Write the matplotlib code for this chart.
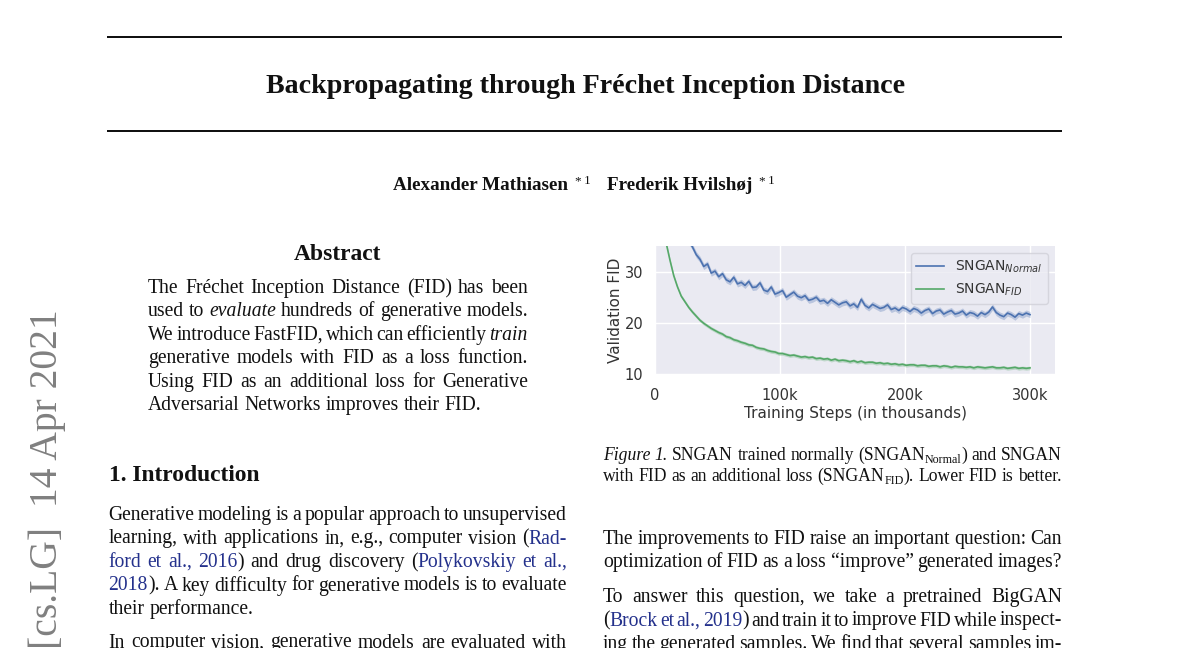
import re
import matplotlib
matplotlib.use('Agg')
import matplotlib.pyplot as plt
from matplotlib.lines import Line2D
import numpy as np

# ---------------- data ----------------
blue_steps = list(range(27, 301, 3))
blue_fid = [36.0, 34.8, 33.3, 32.4, 31.0, 31.5, 29.7, 30.1, 29.0, 29.6,
            28.4, 28.0, 28.9, 27.6, 27.9, 27.3, 28.1, 26.9, 27.0, 27.8,
            26.4, 26.1, 27.0, 25.6, 25.9, 26.3, 25.0, 25.5, 26.0, 25.2,
            24.9, 25.3, 24.4, 24.6, 25.0, 24.2, 24.4, 23.8, 24.5, 24.0,
            23.5, 23.9, 24.1, 23.3, 23.7, 23.0, 24.6, 23.4, 22.9, 23.6,
            23.2, 22.8, 23.0, 23.5, 22.6, 22.9, 22.4, 23.0, 22.7, 22.2,
            22.8, 22.5, 21.9, 22.4, 22.7, 21.8, 22.3, 22.5, 21.7, 22.1,
            22.4, 21.7, 21.9, 22.3, 21.5, 22.0, 21.8, 21.3, 22.0, 21.6,
            22.1, 23.1, 22.0, 21.5, 21.2, 21.9, 21.6, 21.1, 21.8, 21.5,
            21.9, 21.6]
blue_std = 0.6

green_steps = list(range(6, 301, 3))
green_fid = [40.0, 35.5, 32.2, 29.2, 27.0, 25.2, 24.1, 23.0, 22.1, 21.3,
             20.5, 19.9, 19.4, 18.9, 18.5, 18.1, 17.8, 17.3, 17.1, 16.7,
             16.5, 16.2, 16.0, 15.7, 15.6, 15.2, 15.0, 14.9, 14.6, 14.4,
             14.3, 14.0, 14.0, 13.8, 13.6, 13.7, 13.5, 13.3, 13.4, 13.2,
             13.3, 13.0, 13.1, 12.9, 13.0, 12.7, 12.9, 12.6, 12.7, 12.6,
             12.4, 12.6, 12.3, 12.5, 12.2, 12.3, 12.3, 12.1, 12.2, 12.0,
             12.1, 11.9, 12.0, 11.8, 11.9, 11.7, 11.8, 11.8, 11.6, 11.7,
             11.7, 11.5, 11.6, 11.6, 11.4, 11.6, 11.5, 11.3, 11.5, 11.4,
             11.4, 11.3, 11.4, 11.2, 11.4, 11.3, 11.2, 11.3, 11.4, 11.2,
             11.2, 11.3, 11.1, 11.2, 11.3, 11.1, 11.2, 11.1, 11.2]
green_std = 0.35

series_labels = ['SNGAN$_{Normal}$', 'SNGAN$_{FID}$']
x_ticks = [0, 100, 200, 300]
x_tick_labels = ['0', '100k', '200k', '300k']
y_ticks = [10, 20, 30]
x_label = 'Training Steps (in thousands)'
y_label = 'Validation FID'

title_text = 'Backpropagating through Fréchet Inception Distance'
authors = ['Alexander Mathiasen', 'Frederik Hvilshøj']
stamp_text = '[cs.LG]  14 Apr 2021'
abstract_head = 'Abstract'
intro_head = '1. Introduction'

abstract_lines = [
    'The Fréchet Inception Distance (FID) has been',
    'used to <i>evaluate</> hundreds of generative models.',
    'We introduce FastFID, which can efficiently <i>train</>',
    'generative models with FID as a loss function.',
    'Using FID as an additional loss for Generative',
    'Adversarial Networks improves their FID.',
]
abstract_just = [True, True, True, True, True, False]

intro_lines = [
    'Generative modeling is a popular approach to unsupervised',
    'learning, with applications in, e.g., computer vision (<l>Rad-</>',
    '<l>ford et al., 2016</>) and drug discovery (<l>Polykovskiy et al.,</>',
    '<l>2018</>). A key difficulty for generative models is to evaluate',
    'their performance.',
    'In computer vision, generative models are evaluated with',
]
intro_just = [True, True, True, True, False, True]

caption_lines = [
    '<i>Figure 1.</> SNGAN trained normally (SNGAN<s>Normal</>) and SNGAN',
    'with FID as an additional loss (SNGAN<s>FID</>). Lower FID is better.',
]
caption_just = [True, False]

right_lines = [
    'The improvements to FID raise an important question: Can',
    'optimization of FID as a loss “improve” generated images?',
    'To answer this question, we take a pretrained BigGAN',
    '(<l>Brock et al., 2019</>) and train it to improve FID while inspect-',
    'ing the generated samples. We find that several samples im-',
]
right_just = [True, True, True, True, True]

# ---------------- layout / style ----------------
W, H = 1200, 648
SERIF = 'Liberation Serif'
INK = '#111111'
LINK = '#24318c'
BLUE = '#4C72B0'
GREEN = '#55A868'
CHART_TXT = '#333333'
BODY = 14.1
CAP = 12.7
HEAD = 16.9

fig = plt.figure(figsize=(W / 100, H / 100), dpi=100)
fig.patch.set_facecolor('white')
renderer = fig.canvas.get_renderer()

_cache = {}


def measure(txt, props):
    key = (txt, tuple(sorted(props.items())))
    if key not in _cache:
        t = fig.text(0, 0, txt, **props)
        _cache[key] = t.get_window_extent(renderer=renderer).width
        t.remove()
    return _cache[key]


def props_for(st, size, weight='normal'):
    p = dict(family=SERIF, fontsize=size, weight=weight, style='normal', color=INK)
    dy = 0
    if st == 'i':
        p['style'] = 'italic'
    elif st == 'l':
        p['color'] = LINK
    elif st == 's':
        p['fontsize'] = size * 0.68
        dy = 3
    return p, dy


def parse(line):
    words = [[]]
    style = 'n'
    for m in re.finditer(r'(<\w+>)|(</>)|( )|([^< ]+)', line):
        if m.group(1):
            style = m.group(1)[1:-1]
        elif m.group(2):
            style = 'n'
        elif m.group(3):
            if words[-1]:
                words.append([])
        else:
            words[-1].append((m.group(4), style))
    return [w for w in words if w]


def draw_line(line, x0, x1, yb, size, justify=True):
    words = parse(line)
    laid = []
    for w in words:
        pieces = []
        for txt, st in w:
            p, dy = props_for(st, size)
            pieces.append((txt, p, measure(txt, p), dy))
        laid.append(pieces)
    widths = [sum(pc[2] for pc in w) for w in laid]
    base = dict(family=SERIF, fontsize=size, weight='normal', style='normal', color=INK)
    space = measure('n n', base) - 2 * measure('n', base)
    if justify and len(laid) > 1:
        gap = (x1 - x0 - sum(widths)) / (len(laid) - 1)
    else:
        gap = space
    x = x0
    for pieces, wdt in zip(laid, widths):
        px = x
        for txt, p, pw, dy in pieces:
            fig.text(px / W, 1 - (yb + dy) / H, txt, ha='left', va='baseline', **p)
            px += pw
        x += wdt + gap


def hrule(y, x0=108, x1=1061, lw_px=2.0):
    fig.add_artist(Line2D([x0 / W, x1 / W], [1 - y / H, 1 - y / H],
                          transform=fig.transFigure, color=INK, lw=lw_px * 72 / 100))


# ---------------- page header ----------------
hrule(37)
hrule(131)
fig.text(585.5 / W, 1 - 93 / H, title_text, ha='center', va='baseline',
         family=SERIF, weight='bold', fontsize=20.2, color=INK)

# authors with superscripts, centred
bold = dict(family=SERIF, fontsize=13.8, weight='bold', style='normal', color=INK)
sup = dict(family=SERIF, fontsize=BODY * 0.68, weight='normal', style='normal', color=INK)
author_pieces = [(authors[0], bold, 0), (6, None, 0), ('*', sup, -6), (3, None, 0), ('1', sup, -6),
                 (16, None, 0), (authors[1], bold, 0), (6, None, 0), ('*', sup, -6), (3, None, 0),
                 ('1', sup, -6)]
tot = 0
for a, p, dy in author_pieces:
    tot += a if p is None else measure(a, p)
x = 584 - tot / 2
for a, p, dy in author_pieces:
    if p is None:
        x += a
    else:
        fig.text(x / W, 1 - (190 + dy) / H, a, ha='left', va='baseline', **p)
        x += measure(a, p)

# arXiv stamp
fig.text(47.5 / W, 1 - 309 / H, stamp_text, rotation=90, ha='center', va='top',
         family=SERIF, fontsize=28.5, color='#808080')

# ---------------- left column ----------------
fig.text(337.5 / W, 1 - 260 / H, abstract_head, ha='center', va='baseline',
         family=SERIF, weight='bold', fontsize=HEAD, color=INK)
for i, (ln, j) in enumerate(zip(abstract_lines, abstract_just)):
    draw_line(ln, 148, 528, 293 + 23.45 * i, BODY, j)

fig.text(108.5 / W, 1 - 481 / H, intro_head, ha='left', va='baseline',
         family=SERIF, weight='bold', fontsize=HEAD, color=INK)
intro_base = [520, 543.5, 567, 590.5, 614, 647.5]
for ln, j, yb in zip(intro_lines, intro_just, intro_base):
    draw_line(ln, 108.5, 567, yb, BODY, j)

# ---------------- right column ----------------
cap_base = [460, 481]
for ln, j, yb in zip(caption_lines, caption_just, cap_base):
    draw_line(ln, 603, 1062, yb, CAP, j)

right_base = [544, 567, 602, 625.5, 649]
for ln, j, yb in zip(right_lines, right_just, right_base):
    draw_line(ln, 603, 1062, yb, BODY, j)

# ---------------- the chart ----------------
ax = fig.add_axes([655 / W, 1 - 374 / H, 400 / W, 128 / H])
ax.set_facecolor('#EAEAF2')
for s in ax.spines.values():
    s.set_visible(False)
ax.grid(True, color='white', lw=1.0)
ax.set_axisbelow(True)

bx = np.array(blue_steps)
by = np.array(blue_fid)
gx = np.array(green_steps)
gy = np.array(green_fid)
ax.fill_between(bx, by - blue_std, by + blue_std, color=BLUE, alpha=0.3, lw=0)
ax.plot(bx, by, color=BLUE, lw=1.2, label=series_labels[0])
ax.fill_between(gx, gy - green_std, gy + green_std, color=GREEN, alpha=0.3, lw=0)
ax.plot(gx, gy, color=GREEN, lw=1.2, label=series_labels[1])

ax.set_xlim(0, 320)
ax.set_ylim(10, 35)
ax.set_xticks(x_ticks)
ax.set_xticklabels(x_tick_labels)
ax.set_yticks(y_ticks)
ax.tick_params(axis='both', length=0, labelsize=10.5, labelcolor=CHART_TXT)
ax.tick_params(axis='x', pad=10)
ax.tick_params(axis='y', pad=8.5)
ax.set_xlabel(x_label, fontsize=11, color=CHART_TXT, family='DejaVu Sans', labelpad=2.5)
ax.set_ylabel(y_label, fontsize=11, color=CHART_TXT, family='DejaVu Sans', labelpad=1)
for lab in ax.get_xticklabels() + ax.get_yticklabels():
    lab.set_family('DejaVu Sans')
leg = ax.legend(loc='upper right', fontsize=10, frameon=True, facecolor='#EAEAF2',
                edgecolor='#d0d0d8', framealpha=0.8)
for t in leg.get_texts():
    t.set_color(CHART_TXT)

fig.savefig('out.png', dpi=100, facecolor='white')
